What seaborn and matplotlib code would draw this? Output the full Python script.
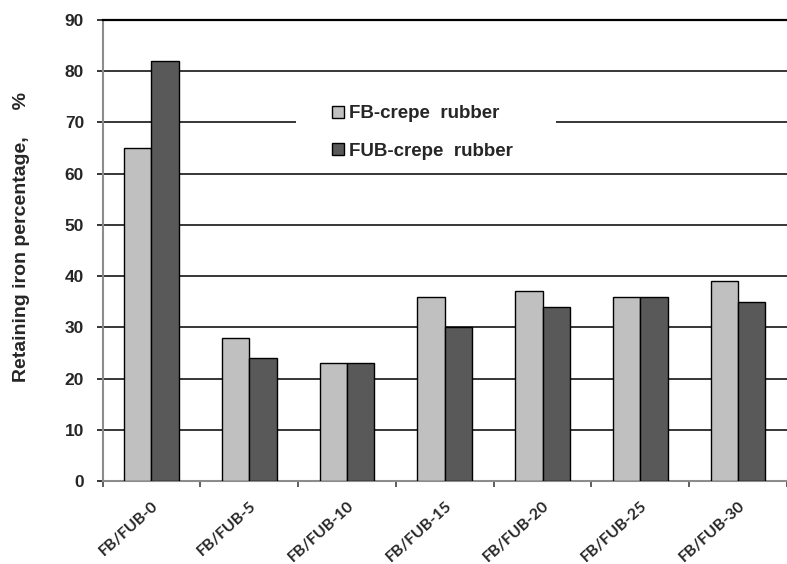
import matplotlib
matplotlib.use('Agg')
import matplotlib.pyplot as plt
from matplotlib.patches import Rectangle
import pandas as pd
import seaborn as sns

categorias = ['FB/FUB-0', 'FB/FUB-5', 'FB/FUB-10', 'FB/FUB-15', 'FB/FUB-20', 'FB/FUB-25', 'FB/FUB-30']
fb_crepe = [65, 28, 23, 36, 37, 36, 39]
fub_crepe = [82, 24, 23, 30, 34, 36, 35]
series = ['FB-crepe  rubber', 'FUB-crepe  rubber']

df = pd.DataFrame({
    'Amostra': categorias * 2,
    'Valor': fb_crepe + fub_crepe,
    'Serie': [series[0]] * len(categorias) + [series[1]] * len(categorias),
})

sns.set_style('white')
plt.rcParams['font.family'] = ['Liberation Sans', 'DejaVu Sans']

fig = plt.figure(figsize=(7.87, 5.64), dpi=100)
ax = fig.add_axes([102.5 / 787, 1 - 481 / 564, 1 - 102.5 / 787, 461 / 564])

sns.barplot(data=df, x='Amostra', y='Valor', hue='Serie', order=categorias,
            hue_order=series, palette=['#C0C0C0', '#595959'], width=0.56,
            edgecolor='black', linewidth=1, saturation=1, ax=ax, zorder=3)

ax.set_ylim(0, 90)
ax.set_xlim(-0.5, 6.41)
ax.set_yticks(range(0, 91, 10))
ax.yaxis.grid(True, color='black', linewidth=1.1, zorder=0)
ax.set_axisbelow(True)

# faixa branca do quadro da legenda (corta a linha de 70)
ax.add_patch(Rectangle((0.282, 63), 0.38, 14, transform=ax.get_yaxis_transform(),
                       facecolor='white', edgecolor='none', zorder=1))

ax.spines['right'].set_visible(False)
ax.spines['top'].set_color('black')
ax.spines['top'].set_linewidth(1.6)
ax.spines['left'].set_color('#8c8c8c')
ax.spines['left'].set_linewidth(1.5)
ax.spines['bottom'].set_color('#8c8c8c')
ax.spines['bottom'].set_linewidth(1.5)

ax.tick_params(axis='y', length=4.3, width=1.1, color='black', labelsize=12.5, pad=9, left=True)
for lbl in ax.get_yticklabels():
    lbl.set_fontweight('bold')

ax.set_xticks(range(len(categorias)))
ax.set_xticklabels(categorias, rotation=42, ha='right', va='top', rotation_mode='anchor',
                   fontsize=11.5, fontweight='bold', family=['Lato', 'DejaVu Sans'])
ax.tick_params(axis='x', which='major', length=0, pad=13)
ax.set_xticks([i - 0.5 for i in range(len(categorias) + 1)], minor=True)
ax.tick_params(axis='x', which='minor', length=4.3, width=1.1, color='#333333', bottom=True)

ax.set_xlabel('')
ax.set_ylabel('Retaining iron percentage,     %', fontsize=14, fontweight='bold')
ax.yaxis.set_label_coords(-0.106, 0.529)

leg = ax.legend(loc='upper left', bbox_to_anchor=(0.336, 0.815), frameon=False,
                prop={'weight': 'bold', 'size': 13.5},
                handlelength=0.6, handleheight=0.6, handletextpad=0.3,
                labelspacing=1.1, borderpad=0, borderaxespad=0)
leg.set_zorder(4)

plt.savefig('out.png', dpi=100)
